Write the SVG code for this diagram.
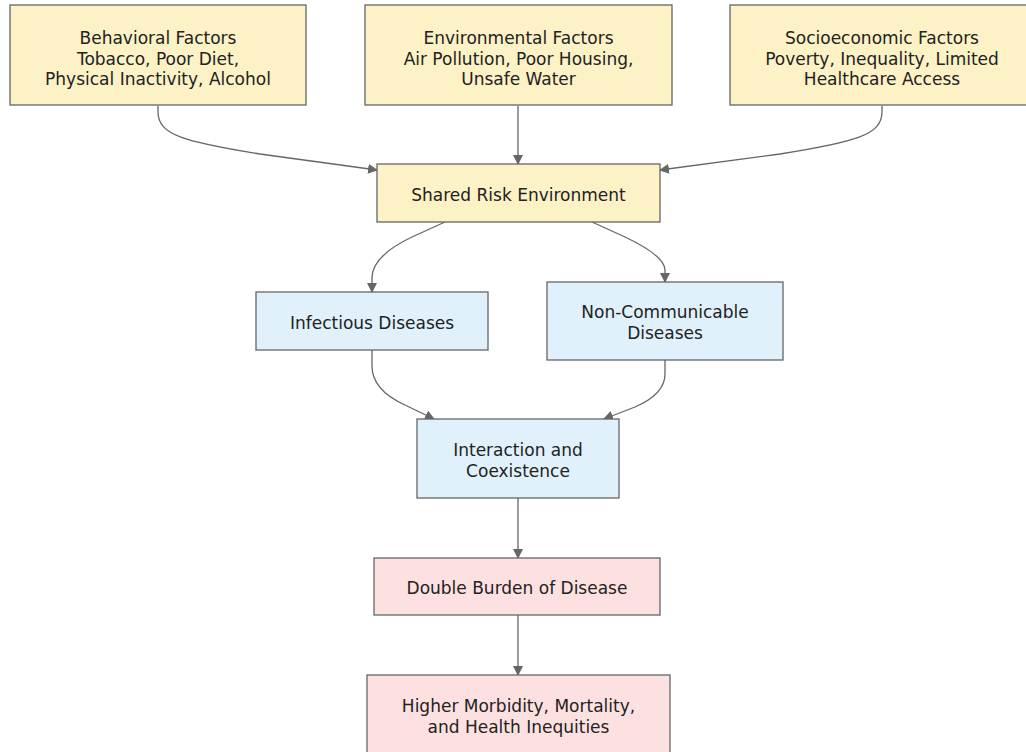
<svg xmlns="http://www.w3.org/2000/svg" width="1026" height="752" viewBox="0 0 1026 752">
<style>
text{font-family:"DejaVu Sans","Open Sans",sans-serif;font-size:17px;fill:#222;text-anchor:middle}
.y{fill:#fdf1c6;stroke:#666;stroke-width:1.3}
.b{fill:#e0f1fc;stroke:#666;stroke-width:1.3}
.p{fill:#fde1e1;stroke:#666;stroke-width:1.3}
.e{fill:none;stroke:#666;stroke-width:1.3;marker-end:url(#ah)}
</style>
<defs>
<marker id="ah" viewBox="0 0 10 10" refX="9" refY="5" markerWidth="10" markerHeight="10" markerUnits="userSpaceOnUse" orient="auto">
<path d="M0,0 L10,5 L0,10 z" fill="#666"/>
</marker>
</defs>
<rect width="1026" height="752" fill="#fff"/>
<g id="edges">
<path class="e" d="M158,106 V112 C158,135 185,142 260,154 L377,170"/>
<path class="e" d="M518,106 V164"/>
<path class="e" d="M882,106 V112 C882,135 855,142 780,154 L660,170"/>
<path class="e" d="M445,222 L412,237 Q372,256 372,278 V292"/>
<path class="e" d="M592,222 L625,237 Q665,256 665,270 V282"/>
<path class="e" d="M372,350 V366 Q372,390 405,405 L434,419"/>
<path class="e" d="M665,360 V374 Q665,394 635,407 L604,419"/>
<path class="e" d="M518,498 V558"/>
<path class="e" d="M518,615 V675"/>
</g>
<g id="behavioral">
<rect class="y" x="10" y="5" width="296" height="100"/>
<text x="158" y="44">Behavioral Factors</text>
<text x="158" y="64.5">Tobacco, Poor Diet,</text>
<text x="158" y="85">Physical Inactivity, Alcohol</text>
</g>
<g id="environmental">
<rect class="y" x="365" y="5" width="307" height="100"/>
<text x="518.5" y="44">Environmental Factors</text>
<text x="518.5" y="64.5">Air Pollution, Poor Housing,</text>
<text x="518.5" y="85">Unsafe Water</text>
</g>
<g id="socioeconomic">
<rect class="y" x="730" y="5" width="304" height="100"/>
<text x="882" y="44">Socioeconomic Factors</text>
<text x="882" y="64.5">Poverty, Inequality, Limited</text>
<text x="882" y="85">Healthcare Access</text>
</g>
<g id="shared">
<rect class="y" x="377" y="164" width="283" height="58"/>
<text x="518.5" y="200.5">Shared Risk Environment</text>
</g>
<g id="infectious">
<rect class="b" x="256" y="292" width="232" height="58"/>
<text x="372" y="328.5">Infectious Diseases</text>
</g>
<g id="ncd">
<rect class="b" x="547" y="282" width="236" height="78"/>
<text x="665" y="318">Non-Communicable</text>
<text x="665" y="338.5">Diseases</text>
</g>
<g id="interaction">
<rect class="b" x="417" y="419" width="202" height="79"/>
<text x="518" y="456">Interaction and</text>
<text x="518" y="476.5">Coexistence</text>
</g>
<g id="double">
<rect class="p" x="374" y="558" width="286" height="57"/>
<text x="517" y="593.5">Double Burden of Disease</text>
</g>
<g id="higher">
<rect class="p" x="367" y="675" width="303" height="90"/>
<text x="518.5" y="712">Higher Morbidity, Mortality,</text>
<text x="518.5" y="732.5">and Health Inequities</text>
</g>
</svg>
